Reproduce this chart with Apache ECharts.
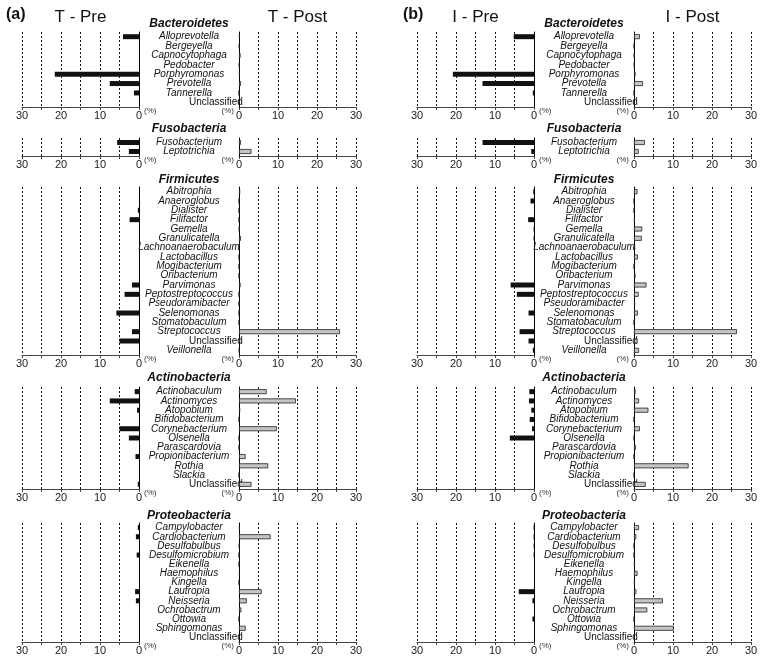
<!DOCTYPE html>
<html>
<head>
<meta charset="utf-8">
<script src="https://cdn.jsdelivr.net/npm/echarts@6/dist/echarts.min.js"></script>
<style>
  html, body { margin: 0; padding: 0; background: #fff; }
  #main { width: 762px; height: 664px; }
</style>
</head>
<body>
<div id="main"></div>
<script>
// phylum groups and their genera
const groups = ['Bacteroidetes', 'Fusobacteria', 'Firmicutes', 'Actinobacteria', 'Proteobacteria'];
const genusBact = ['Alloprevotella', 'Bergeyella', 'Capnocytophaga', 'Pedobacter', 'Porphyromonas', 'Prevotella', 'Tannerella', 'Unclassified'];
const genusFuso = ['Fusobacterium', 'Leptotrichia'];
const genusFirm = ['Abitrophia', 'Anaeroglobus', 'Dialister', 'Filifactor', 'Gemella', 'Granulicatella', 'Lachnoanaerobaculum', 'Lactobacillus', 'Mogibacterium', 'Oribacterium', 'Parvimonas', 'Peptostreptococcus', 'Pseudoramibacter', 'Selenomonas', 'Stomatobaculum', 'Streptococcus', 'Unclassified', 'Veillonella'];
const genusActi = ['Actinobaculum', 'Actinomyces', 'Atopobium', 'Bifidobacterium', 'Corynebacterium', 'Olsenella', 'Parascardovia', 'Propionibacterium', 'Rothia', 'Slackia', 'Unclassified'];
const genusProt = ['Campylobacter', 'Cardiobacterium', 'Desulfobulbus', 'Desulfomicrobium', 'Eikenella', 'Haemophilus', 'Kingella', 'Lautropia', 'Neisseria', 'Ochrobactrum', 'Ottowia', 'Sphingomonas', 'Unclassified'];

// (%) values
const tPreBact  = [4.1, 0, 0, 0, 21.6, 7.5, 1.3, 0];
const tPostBact = [0.2, 0.1, 0.4, 0.1, 0.2, 0.5, 0, 0];
const iPreBact  = [5.2, 0, 0, 0, 20.8, 13.2, 0.3, 0];
const iPostBact = [1.5, 0, 0.1, 0.1, 0.4, 2.3, 0, 0.1];

const tPreFuso  = [5.6, 2.6];
const tPostFuso = [0.5, 3.2];
const iPreFuso  = [13.2, 0.7];
const iPostFuso = [2.8, 1.2];

const tPreFirm  = [0, 0, 0.3, 2.4, 0, 0, 0, 0, 0, 0, 1.8, 3.7, 0, 5.8, 0, 1.8, 5.0, 0];
const tPostFirm = [0.3, 0, 0, 0, 0.1, 0.5, 0, 0, 0, 0, 0.4, 0, 0, 0, 0, 25.9, 0.3, 0.1];
const iPreFirm  = [0.2, 0.9, 0, 1.5, 0.1, 0.1, 0, 0, 0, 0, 6.0, 4.4, 0, 1.4, 0, 3.7, 1.4, 0.3];
const iPostFirm = [0.9, 0, 0, 0.2, 2.1, 2.0, 0.3, 1.0, 0, 0.4, 3.2, 1.2, 0.3, 1.0, 0, 26.4, 0.9, 1.3];

const tPreActi  = [1.1, 7.5, 0.5, 0, 5.0, 2.6, 0, 0.9, 0, 0, 0.3];
const tPostActi = [7.1, 14.6, 0.3, 0, 9.7, 0, 0, 1.7, 7.5, 0, 3.2];
const iPreActi  = [1.2, 1.3, 0.7, 1.1, 0.5, 6.2, 0, 0, 0, 0, 0];
const iPostActi = [0.4, 1.3, 3.7, 0, 1.5, 0, 0.5, 0, 14.0, 0, 3.0];

const tPreProt  = [0.3, 0.8, 0, 0.6, 0, 0, 0, 1.0, 0.8, 0, 0, 0, 0];
const tPostProt = [0.2, 8.1, 0.1, 0, 0, 0.2, 0, 5.8, 2.0, 0.6, 0, 1.7, 0.1];
const iPreProt  = [0.1, 0.1, 0.1, 0.1, 0, 0, 0, 3.9, 0.4, 0, 0.4, 0, 0];
const iPostProt = [1.3, 0.6, 0, 0, 0.2, 0.9, 0.2, 0.6, 7.4, 3.4, 0, 10.2, 0.2];

const xTicks = [0, 10, 20, 30];
const panelTitles = [['T - Pre', 'T - Post'], ['I - Pre', 'I - Post']];
const panelTags = ['(a)', '(b)'];

const genera = [genusBact, genusFuso, genusFirm, genusActi, genusProt];
const values = [
  [[tPreBact, tPostBact], [iPreBact, iPostBact]],
  [[tPreFuso, tPostFuso], [iPreFuso, iPostFuso]],
  [[tPreFirm, tPostFirm], [iPreFirm, iPostFirm]],
  [[tPreActi, tPostActi], [iPreActi, iPostActi]],
  [[tPreProt, tPostProt], [iPreProt, iPostProt]]
];

// layout
const groupTop = [32, 138, 187, 387, 523];
const groupBottom = [107, 156, 355, 489, 642];
const titleY = [24, 129, 180, 378, 516];
const panelX = [[22, 239], [417, 634]]; // left edge of pre / post grids
const gridW = 117;
const FONT = '"Liberation Sans", Arial, sans-serif';

const grid = [], xAxis = [], yAxis = [], series = [], graphic = [];

groups.forEach(function (g, gi) {
  const cats = genera[gi].map(function (n) {
    return n === 'Unclassified' ? { value: n, textStyle: { fontStyle: 'normal' } } : n;
  });
  for (let p = 0; p < 2; p++) {
    for (let s = 0; s < 2; s++) {
      const idx = grid.length;
      const isPre = s === 0;
      grid.push({
        left: panelX[p][s], width: gridW,
        top: groupTop[gi], height: groupBottom[gi] - groupTop[gi],
        outerBoundsMode: 'none'
      });
      xAxis.push({
        type: 'value', gridIndex: idx, min: 0, max: 30, interval: 5,
        inverse: isPre,
        axisLine: { show: true, lineStyle: { color: '#444', width: 1 } },
        axisTick: { show: true, length: 3, lineStyle: { color: '#444' } },
        axisLabel: {
          margin: 3, fontSize: 11, color: '#222', fontFamily: FONT,
          formatter: function (v) { return xTicks.indexOf(v) >= 0 ? String(v) : ''; }
        },
        splitLine: { show: true, lineStyle: { color: '#111', type: [2, 2], width: 1 } }
      });
      yAxis.push({
        type: 'category', gridIndex: idx, data: cats, inverse: true,
        position: isPre ? 'right' : 'left',
        axisLine: { show: true, onZero: false, lineStyle: { color: '#000', width: 1 } },
        axisTick: { show: false },
        axisLabel: {
          show: isPre, interval: 0, align: 'center', margin: 50,
          fontSize: 10, fontStyle: 'italic', color: '#111', fontFamily: FONT
        },
        splitLine: { show: false }
      });
      series.push({
        type: 'bar', xAxisIndex: idx, yAxisIndex: idx,
        data: values[gi][p][s], barWidth: 5, silent: true,
        itemStyle: isPre
          ? { color: '#111' }
          : { color: '#c4c4c4', borderColor: '#222', borderWidth: 0.8 }
      });
      // (%) unit marks
      const axisY = groupBottom[gi];
      graphic.push({
        type: 'text',
        x: isPre ? panelX[p][0] + gridW + 5 : panelX[p][1] - 5,
        y: axisY + 4,
        style: {
          text: '(%)', font: '8px ' + FONT, fill: '#333',
          align: isPre ? 'left' : 'right', verticalAlign: 'middle'
        }
      });
    }
    // group title
    graphic.push({
      type: 'text',
      x: (panelX[p][0] + gridW + panelX[p][1]) / 2,
      y: titleY[gi],
      style: {
        text: g, font: 'italic bold 12px ' + FONT, fill: '#111',
        align: 'center', verticalAlign: 'middle'
      }
    });
  }
});

for (let p = 0; p < 2; p++) {
  graphic.push({
    type: 'text', x: p === 0 ? 6 : 403, y: 15,
    style: { text: panelTags[p], font: 'bold 16px ' + FONT, fill: '#111', align: 'left', verticalAlign: 'middle' }
  });
  for (let s = 0; s < 2; s++) {
    graphic.push({
      type: 'text', x: panelX[p][s] + (s === 0 ? gridW / 2 + 0 : gridW / 2), y: 17,
      style: { text: panelTitles[p][s], font: '17px ' + FONT, fill: '#111', align: 'center', verticalAlign: 'middle' }
    });
  }
}

const chart = echarts.init(document.getElementById('main'), null, { renderer: 'canvas' });
chart.setOption({
  backgroundColor: '#fff',
  animation: false,
  grid: grid,
  xAxis: xAxis,
  yAxis: yAxis,
  series: series,
  graphic: graphic
});
</script>
</body>
</html>
